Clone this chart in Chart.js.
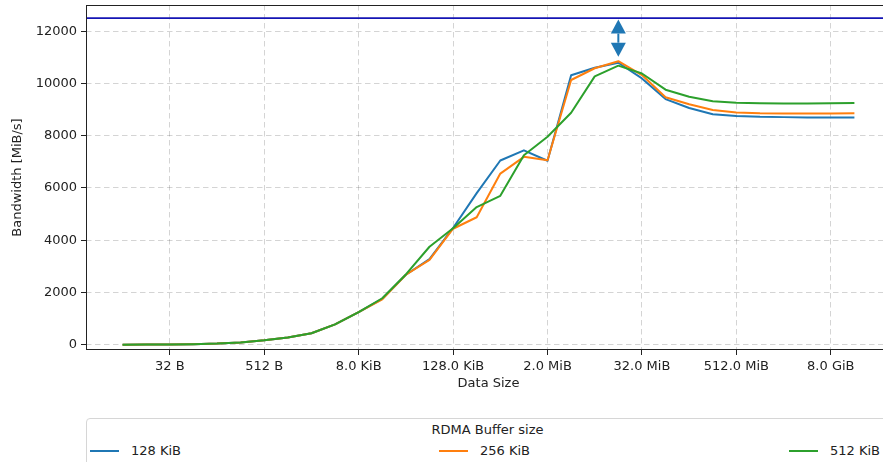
<!DOCTYPE html>
<html>
<head>
<meta charset="utf-8">
<script src="https://cdn.jsdelivr.net/npm/chart.js@4.4.0/dist/chart.umd.min.js"></script>
<style>
body { margin: 0; width: 883px; height: 462px; overflow: hidden; background: #fff; font-family: 'DejaVu Sans', sans-serif; color: #222; }
#wrap { position: absolute; left: 0; top: 0; width: 891px; height: 391px; }
#legend { position: absolute; left: 86px; top: 418px; width: 803px; height: 70px; border: 1px solid #d6d6d6; border-radius: 4px; box-sizing: border-box; font-size: 13px; }
#legend .title { position: absolute; left: 0; right: 0; top: 3px; text-align: center; }
#legend .item { position: absolute; top: 24px; white-space: nowrap; }
#legend .handle { position: absolute; left: 0; top: 7px; width: 29px; height: 2px; }
#legend .label { position: absolute; left: 41px; top: 0; }
</style>
</head>
<body>
<div id="wrap"><canvas id="lineChart"></canvas></div>
<div id="legend"><div class="title">RDMA Buffer size</div></div>
<script>
// data sizes in bytes (8 B .. 16 GiB)
const dataSizes = [8, 16, 32, 64, 128, 256, 512, 1024, 2048, 4096, 8192, 16384, 32768, 65536,
    131072, 262144, 524288, 1048576, 2097152, 4194304, 8388608, 16777216, 33554432, 67108864,
    134217728, 268435456, 536870912, 1073741824, 2147483648, 4294967296, 8589934592, 17179869184];

const tickSizes = [32, 512, 8192, 131072, 2097152, 33554432, 536870912, 8589934592];
const tickLabels = ['32 B', '512 B', '8.0 KiB', '128.0 KiB', '2.0 MiB', '32.0 MiB', '512.0 MiB', '8.0 GiB'];
const yTicks = [0, 2000, 4000, 6000, 8000, 10000, 12000];

const seriesNames = ['128 KiB', '256 KiB', '512 KiB'];
const seriesColors = ['#1f77b4', '#ff7f0e', '#2ca02c'];

const bw128 = [3, 6, 12, 24, 45, 88, 170, 280, 440, 780, 1250, 1760, 2680, 3280, 4470, 5800, 7050, 7440,
    7040, 10310, 10600, 10790, 10190, 9400, 9060, 8820, 8750, 8720, 8710, 8700, 8700, 8700];
const bw256 = [3, 6, 12, 24, 45, 88, 170, 280, 440, 780, 1250, 1740, 2680, 3250, 4440, 4880, 6550, 7190,
    7060, 10130, 10580, 10850, 10320, 9470, 9200, 8980, 8890, 8860, 8850, 8850, 8850, 8860];
const bw512 = [3, 6, 12, 24, 45, 88, 170, 280, 440, 780, 1250, 1780, 2690, 3750, 4460, 5270, 5700, 7250,
    7960, 8880, 10270, 10680, 10380, 9760, 9490, 9320, 9260, 9240, 9230, 9230, 9240, 9250];

const linkLimit = 12500;      // horizontal line
const arrowSize = 16777216;   // arrow sits at 16 MiB
const arrowPeak = 10850;

Chart.defaults.font.family = "'DejaVu Sans', sans-serif";
Chart.defaults.font.size = 13;
Chart.defaults.color = '#222';

const allSeries = [bw128, bw256, bw512];
const datasets = allSeries.map(function (vals, i) {
    return {
        label: seriesNames[i],
        data: vals.map(function (v, j) { return { x: Math.log2(dataSizes[j]), y: v }; }),
        borderColor: seriesColors[i],
        backgroundColor: seriesColors[i],
        borderWidth: 2,
        pointRadius: 0,
        borderJoinStyle: 'round',
        order: allSeries.length - i
    };
});

const overlay = {
    id: 'overlay',
    afterDatasetsDraw(chart) {
        const ctx = chart.ctx, a = chart.chartArea;
        const x = chart.scales.x, y = chart.scales.y;
        ctx.save();
        // link limit line
        const yl = y.getPixelForValue(linkLimit);
        ctx.strokeStyle = '#1414b4';
        ctx.lineWidth = 1.8;
        ctx.beginPath(); ctx.moveTo(a.left, yl); ctx.lineTo(a.right, yl); ctx.stroke();

        // double arrow
        const ax = x.getPixelForValue(Math.log2(arrowSize));
        const y1 = yl + 1.5, y2 = y.getPixelForValue(arrowPeak) - 4.5;
        const hl = 14, hw = 7.5;
        ctx.fillStyle = '#1f77b4';
        ctx.strokeStyle = '#1f77b4';
        ctx.lineWidth = 2;
        ctx.beginPath(); ctx.moveTo(ax, y1 + hl); ctx.lineTo(ax, y2 - hl); ctx.stroke();
        ctx.beginPath(); ctx.moveTo(ax, y1); ctx.lineTo(ax - hw, y1 + hl); ctx.lineTo(ax + hw, y1 + hl); ctx.closePath(); ctx.fill();
        ctx.beginPath(); ctx.moveTo(ax, y2); ctx.lineTo(ax - hw, y2 - hl); ctx.lineTo(ax + hw, y2 - hl); ctx.closePath(); ctx.fill();

        // axes frame
        ctx.strokeStyle = '#222';
        ctx.lineWidth = 1;
        ctx.strokeRect(a.left + 0.5, a.top + 0.5, a.right - a.left - 1, a.bottom - a.top - 1);
        ctx.restore();
    }
};

const gridStyle = {
    color: 'rgba(0,0,0,0.17)',
    tickColor: '#222',
    tickLength: 5,
    tickWidth: 1,
    tickBorderDash: []
};
const borderStyle = { display: false, dash: [5.5, 3.5] };

new Chart(document.getElementById('lineChart').getContext('2d'), {
    type: 'line',
    data: { datasets: datasets },
    options: {
        responsive: true,
        maintainAspectRatio: false,
        animation: false,
        layout: { padding: { top: 5, left: 0, right: 0, bottom: 0 } },
        plugins: { legend: { display: false }, tooltip: { enabled: false } },
        scales: {
            x: {
                type: 'linear',
                min: 1.45,
                max: 35.55,
                grid: gridStyle,
                border: borderStyle,
                afterBuildTicks: function (scale) {
                    scale.ticks = tickSizes.map(function (s) { return { value: Math.log2(s) }; });
                },
                afterFit: function (scale) {
                    scale.height = 41;
                    scale.paddingLeft = 0;
                    scale.paddingRight = 0;
                },
                ticks: {
                    padding: 4,
                    maxRotation: 0,
                    autoSkip: false,
                    callback: function (v) {
                        const i = tickSizes.findIndex(function (s) { return Math.log2(s) === v; });
                        return i >= 0 ? tickLabels[i] : '';
                    }
                },
                title: { display: true, text: 'Data Size', padding: { top: 0, bottom: 0 } }
            },
            y: {
                min: -200,
                max: 13000,
                grid: gridStyle,
                border: borderStyle,
                afterBuildTicks: function (scale) {
                    scale.ticks = yTicks.map(function (v) { return { value: v }; });
                },
                afterFit: function (scale) {
                    scale.width = 86;
                    scale.paddingTop = 0;
                    scale.paddingBottom = 0;
                },
                ticks: { padding: 4, callback: function (v) { return String(v); } },
                title: { display: true, text: 'Bandwidth [MiB/s]', padding: { top: 10, bottom: 0 } }
            }
        }
    },
    plugins: [overlay]
});

// legend below the chart
const legendX = [3, 352, 702];
const legendBox = document.getElementById('legend');
seriesNames.forEach(function (name, i) {
    const item = document.createElement('div');
    item.className = 'item';
    item.style.left = legendX[i] + 'px';
    item.innerHTML = '<span class="handle" style="background:' + seriesColors[i] + '"></span><span class="label">' + name + '</span>';
    legendBox.appendChild(item);
});
</script>
</body>
</html>
